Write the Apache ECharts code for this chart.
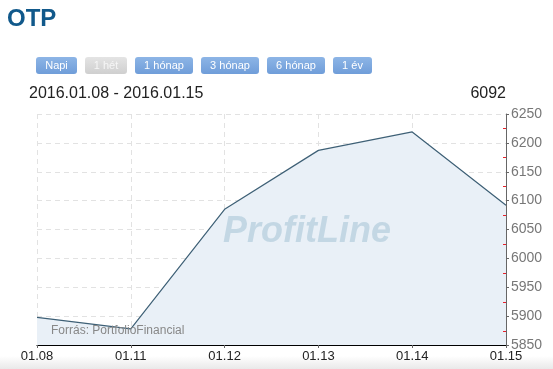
<!DOCTYPE html>
<html>
<head>
<meta charset="utf-8">
<script src="https://cdn.jsdelivr.net/npm/echarts@6/dist/echarts.min.js"></script>
<style>
html,body{margin:0;padding:0;background:#fff;}
#c{width:553px;height:369px;}
</style>
</head>
<body>
<div id="c"></div>
<script>
// ---- data ----
const categories = ['01.08', '01.11', '01.12', '01.13', '01.14', '01.15'];
const prices = [5898, 5878, 6085, 6187, 6219, 6092];
const yTicks = [5850, 5900, 5950, 6000, 6050, 6100, 6150, 6200, 6250];
const buttonLabels = ['Napi', '1 hét', '1 hónap', '3 hónap', '6 hónap', '1 év'];
const activeButton = '1 hét';
const titleText = 'OTP';
const rangeText = '2016.01.08 - 2016.01.15';
const lastValueText = '6092';
const sourceText = 'Forrás: PortfolioFinancial';
const watermarkText = 'ProfitLine';

// minor tick values halfway between labelled ticks
const minorTicks = yTicks.slice(1).map(function (v, i) { return (v + yTicks[i]) / 2; });

// ---- layout ----
const FONT = 'Liberation Sans, Arial, sans-serif';
const ctx = document.createElement('canvas').getContext('2d');
ctx.font = '11px ' + FONT;
const buttons = [];
let bx = 36;
buttonLabels.forEach(function (t) {
  const w = Math.round(ctx.measureText(t).width + 18);
  const active = t === activeButton;
  buttons.push({
    type: 'group', x: bx, y: 57,
    children: [
      { type: 'rect', shape: { x: 0, y: 0, width: w, height: 17, r: 3 },
        style: { fill: new echarts.graphic.LinearGradient(0, 0, 0, 1, active ?
          [{ offset: 0, color: '#e4e4e4' }, { offset: 1, color: '#cfcfcf' }] :
          [{ offset: 0, color: '#8db5e6' }, { offset: 1, color: '#6f9dd9' }]) } },
      { type: 'text', x: w / 2, y: 8.5,
        style: { text: t, fill: active ? '#f6f6f6' : '#ffffff', font: '11px ' + FONT,
          textAlign: 'center', textVerticalAlign: 'middle' } }
    ]
  });
  bx += w + 8;
});

const chart = echarts.init(document.getElementById('c'), null, { renderer: 'canvas' });
chart.setOption({
  backgroundColor: '#ffffff',
  animation: false,
  grid: { left: 37, right: 47, top: 114, bottom: 24, containLabel: false },
  xAxis: {
    type: 'category', data: categories, boundaryGap: false,
    axisLine: { lineStyle: { color: '#000', width: 1.2 } },
    axisTick: { show: true, length: 3, lineStyle: { color: '#666' } },
    axisLabel: { color: '#222', fontSize: 13, fontFamily: FONT, margin: 5 },
    splitLine: { show: true, lineStyle: { color: '#e2e2e2', type: [5, 4] } }
  },
  yAxis: {
    type: 'value', position: 'right',
    min: yTicks[0], max: yTicks[yTicks.length - 1], interval: yTicks[1] - yTicks[0],
    axisLine: { show: true, lineStyle: { color: '#666' } },
    axisTick: { show: true, length: 3, lineStyle: { color: '#666' } },
    axisLabel: { color: '#777', fontSize: 14, fontFamily: FONT, margin: 5,
      formatter: function (v) { return String(v); } },
    splitLine: { show: true, lineStyle: { color: '#e2e2e2', type: [5, 4] } }
  },
  series: [{
    type: 'line', data: prices,
    showSymbol: false, symbol: 'none',
    lineStyle: { color: '#3e6076', width: 1.2 },
    areaStyle: { color: '#e9f0f7', opacity: 1, origin: 'start' },
    z: 3
  }, {
    type: 'custom', silent: true, z: 6,
    data: minorTicks.map(function (v) { return [categories[categories.length - 1], v]; }),
    renderItem: function (params, api) {
      const p = api.coord([api.value(0), api.value(1)]);
      const y = Math.round(p[1]) + 0.5;
      return { type: 'line',
        shape: { x1: p[0] - 3, y1: y, x2: p[0], y2: y },
        style: { stroke: '#e8202a', lineWidth: 1 } };
    }
  }],
  graphic: [
    { type: 'rect', left: 0, top: 356, shape: { x: 0, y: 0, width: 553, height: 13 }, z: -10,
      style: { fill: new echarts.graphic.LinearGradient(0, 0, 0, 1,
        [{ offset: 0, color: '#ffffff' }, { offset: 1, color: '#e9e9e9' }]) } },
    { type: 'text', x: 7, y: 19.5, style: { text: titleText, fill: '#11598b',
      font: 'bold 24px ' + FONT, textVerticalAlign: 'middle' } },
    { type: 'text', x: 29, y: 94, style: { text: rangeText, fill: '#222',
      font: '16px ' + FONT, textVerticalAlign: 'middle' } },
    { type: 'text', x: 506, y: 94, style: { text: lastValueText, fill: '#222',
      font: '16px ' + FONT, textAlign: 'right', textVerticalAlign: 'middle' } },
    { type: 'text', x: 307, y: 232, z: 5, style: { text: watermarkText, fill: '#c3d7e4',
      font: 'italic bold 36px ' + FONT, textAlign: 'center', textVerticalAlign: 'middle' } },
    { type: 'text', x: 51, y: 331, z: 5, style: { text: sourceText, fill: '#888',
      font: '12px ' + FONT, textVerticalAlign: 'middle' } }
  ].concat(buttons)
});
</script>
</body>
</html>
